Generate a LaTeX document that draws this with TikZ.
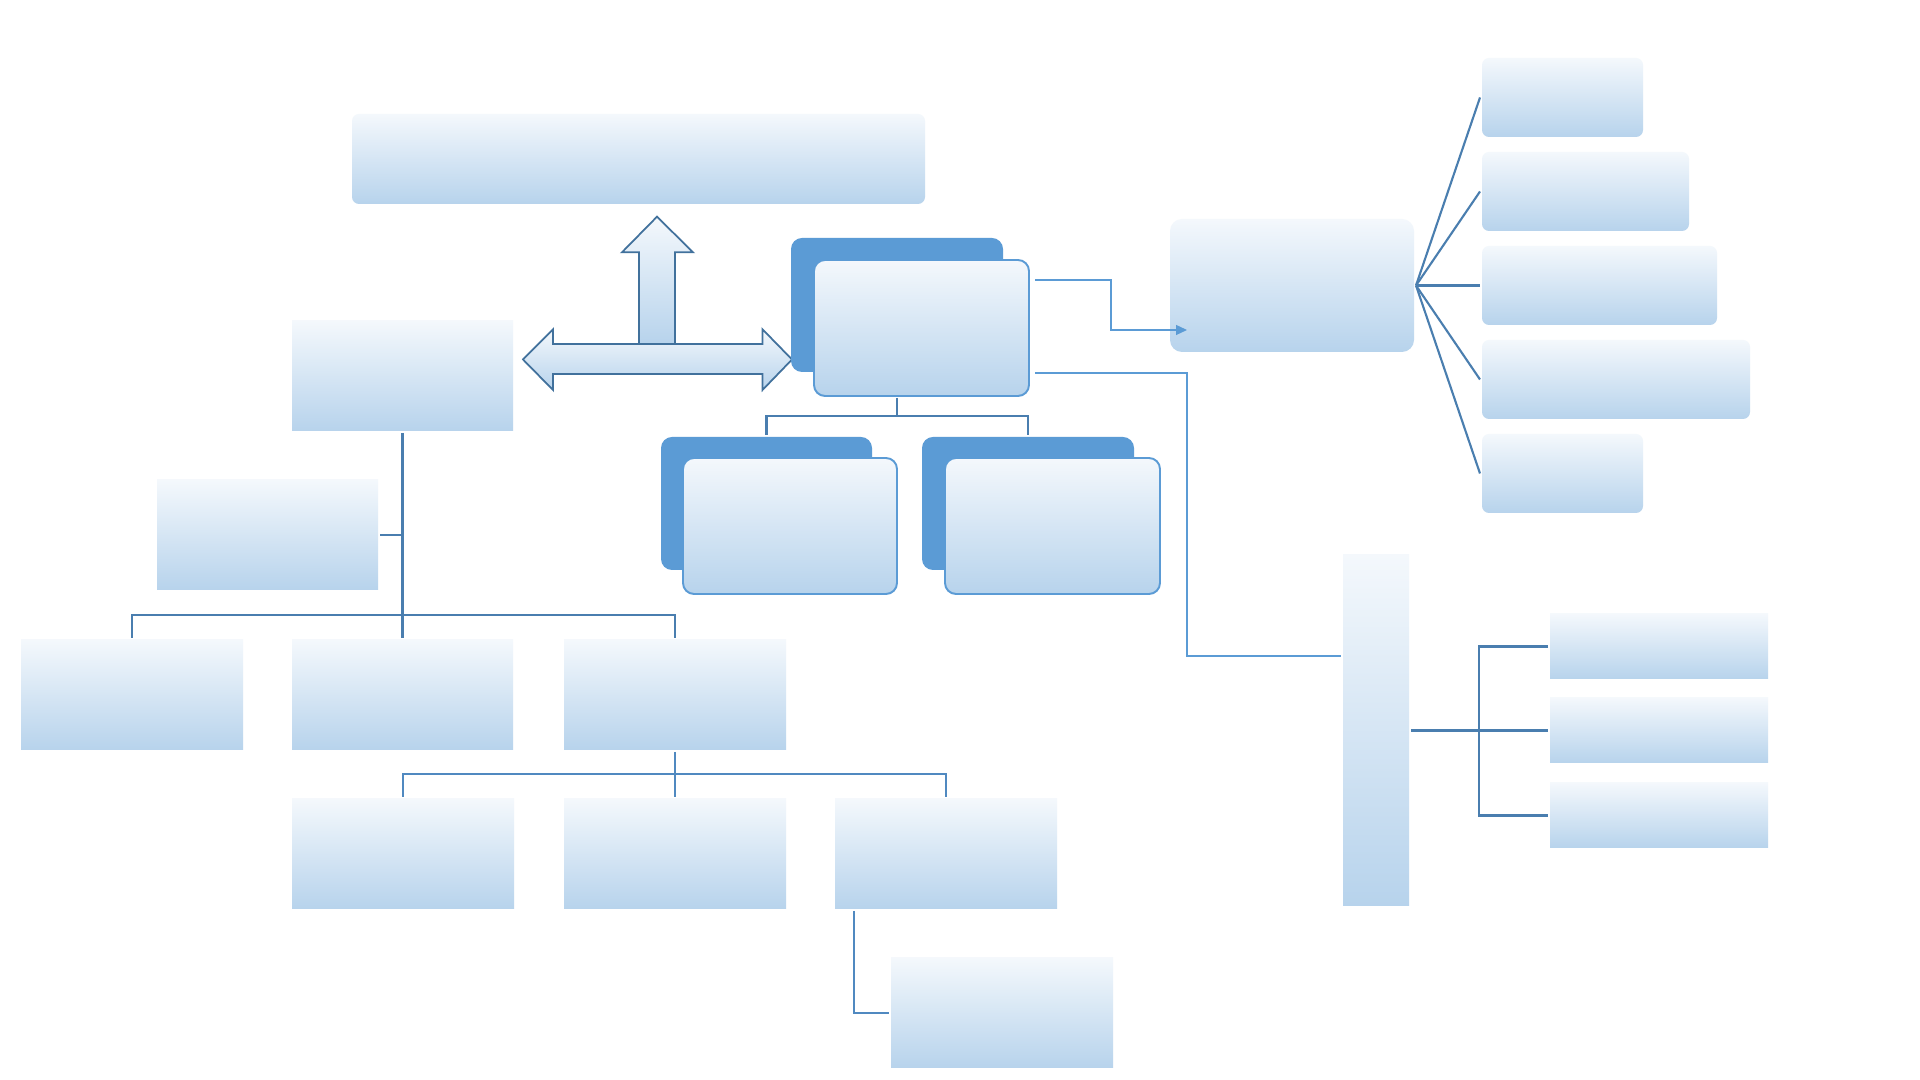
\documentclass[tikz,border=0pt]{standalone}
\usetikzlibrary{calc,arrows.meta}
\definecolor{gtop}{HTML}{F4F8FC}
\definecolor{gbot}{HTML}{B7D3EC}
\definecolor{dkbox}{HTML}{5B9BD5}
\definecolor{lnc}{HTML}{4A7EAF}
\definecolor{lnc2}{HTML}{5089C0}
\definecolor{arrc}{HTML}{41719C}
\tikzset{
 gbox/.style={draw=none, top color=gtop, bottom color=gbot, inner sep=0pt, outer sep=0.02cm},
 rbox/.style={gbox, rounded corners=0.07cm},
 hubbox/.style={gbox, rounded corners=0.12cm},
 frontbox/.style={gbox, draw=dkbox, line width=0.55pt, rounded corners=0.11cm},
 backbox/.style={fill=dkbox, draw=none, inner sep=0pt, outer sep=0.02cm, rounded corners=0.11cm},
 conn/.style={draw=lnc, line width=0.6pt},
 conntwo/.style={draw=lnc2, line width=0.6pt},
 thinconn/.style={draw=dkbox, line width=0.35pt},
 bigarrow/.style={draw=arrc, line width=0.5pt, top color=gtop, bottom color=gbot},
}
\newcommand\bx[6]{\node[#6, minimum width={(#4-#2)*0.01cm}, minimum height={(#5-#3)*0.01cm}] (#1) at ({(#2+#4)/2},{(#3+#5)/2}) {};}
\begin{document}
\begin{tikzpicture}[x=0.01cm,y=-0.01cm]
\useasboundingbox (0,0) rectangle (1920,1080);
\fill[white] (0,0) rectangle (1920,1080);
% banner
\bx{ban}{352}{114}{925}{204}{rbox}
% arrows
\path[bigarrow] (657,216.7) -- (693,252.3) -- (675,252.3) -- (675,344) -- (639,344) -- (639,252.3) -- (622,252.3) -- cycle;
\path[bigarrow] (523,359.5) -- (553,329.3) -- (553,344) -- (762.5,344) -- (762.5,329.3) -- (792,359.5) -- (762.5,390) -- (762.5,374) -- (553,374) -- (553,390) -- cycle;
% left tree
\bx{L1}{292}{321}{513}{431}{gbox}
\bx{L2}{157}{480}{378}{590}{gbox}
\bx{B1}{21}{640}{243}{750}{gbox}
\bx{B2}{292}{640}{513}{750}{gbox}
\bx{B3}{564}{640}{786}{750}{gbox}
\bx{C1}{292}{799}{514}{909}{gbox}
\bx{C2}{564}{799}{786}{909}{gbox}
\bx{C3}{835}{799}{1057}{909}{gbox}
\bx{C4}{891}{958}{1113}{1068}{gbox}
\coordinate (j1) at (403,615);
\coordinate (j4) at (675,774);
\draw[conn] (L1.south) -- (B2.north);
\draw[conn] (B1.north) |- (j1) -| (B3.north);
\draw[conn] (L2.east) -- (L2.east -| j1);
\draw[conntwo] (B3.south) -- (C2.north);
\draw[conntwo] (C1.north) |- (j4) -| (C3.north);
\draw[conntwo] ([shift={(21,0)}]C3.south west) |- (C4.west);
% main group
\bx{Mb}{791}{238}{1003}{372}{backbox}
\bx{Mf}{814}{260}{1029}{396}{frontbox}
\bx{K1b}{661}{437}{872}{570}{backbox}
\bx{K1f}{683}{458}{897}{594}{frontbox}
\bx{K2b}{922}{437}{1134}{570}{backbox}
\bx{K2f}{945}{458}{1160}{594}{frontbox}
\coordinate (j2) at (897,416);
\draw[conn] (Mb.south |- Mf.south) -- (j2);
\draw[conn] (K1b.north) |- (j2) -| (K2b.north);
% right hub
\bx{R}{1170}{219}{1414}{352}{hubbox}
\bx{S1}{1482}{58}{1643}{137}{rbox}
\bx{S2}{1482}{152}{1689}{231}{rbox}
\bx{S3}{1482}{246}{1717}{325}{rbox}
\bx{S4}{1482}{340}{1750}{419}{rbox}
\bx{S5}{1482}{434}{1643}{513}{rbox}
\foreach \s in {S1,S2,S3,S4,S5} \draw[conn] (R.east) -- (\s.west);
% tall box group
\bx{T}{1343}{555}{1409}{906}{gbox}
\bx{U1}{1550}{614}{1768}{679}{gbox}
\bx{U2}{1550}{698}{1768}{763}{gbox}
\bx{U3}{1550}{783}{1768}{848}{gbox}
\coordinate (j3) at (1479,730.5);
\draw[conn] (T.east) -- (U2.west);
\draw[conn] (U1.west) -| (U3.west -| j3) -- (U3.west);
% thin connectors from main
\coordinate (rin) at (1187,330);
\coordinate (k2) at (1187,656);
\draw[thinconn,-{Triangle[length=0.11cm,width=0.1cm]}] ([shift={(4,22)}]Mf.north east) -- ++(76,0) |- (rin);
\draw[thinconn] ([shift={(4,115)}]Mf.north east) -| (k2) -- (k2 -| T.west);
\end{tikzpicture}
\end{document}
